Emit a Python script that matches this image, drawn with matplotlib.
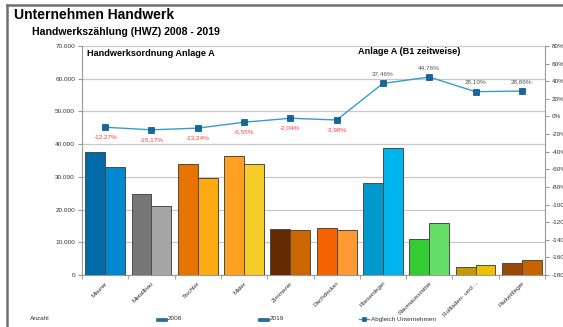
import matplotlib

matplotlib.use("Agg")

import matplotlib.pyplot as plt
from matplotlib.lines import Line2D
from matplotlib.patches import Rectangle
from matplotlib.ticker import FuncFormatter, MultipleLocator
import numpy as np

plt.rcParams["font.family"] = ["Liberation Sans", "DejaVu Sans"]

# Betriebe je Gewerk, HWZ 2008 und 2019
gewerke = ["Maurer", "Metallbau", "Tischler", "Maler", "Zimmerer", "Dachdecker",
           "Fliesenleger", "Raumausstatter", "Rollladen- und ...", "Parkettleger"]
anzahl_2008 = [37500, 24700, 34000, 36400, 14200, 14300, 28200, 10970, 2450, 3600]
anzahl_2019 = [32900, 20950, 29500, 34000, 13900, 13750, 38760, 15880, 3140, 4640]
abgleich = [-12.27, -15.17, -13.24, -6.55, -2.04, -3.98, 37.46, 44.76, 28.10, 28.86]

farben_2008 = ["#006BA8", "#777777", "#E87400", "#FFA020", "#642B00",
               "#F56400", "#0099CC", "#33CC33", "#C49A00", "#9A4A00"]
farben_2019 = ["#0088D1", "#A6A6A6", "#FFAA10", "#F5CC28", "#CC6600",
               "#FF9933", "#00B5EE", "#66DD66", "#EEC000", "#C86400"]

LINE_COLOR = "#3A9AD0"
MARKER_COLOR = "#10689E"
GRID = "#C8C8C8"
TICK_TXT = "#333333"


def de_zahl(v, pos=None):
    return f"{int(v):,}".replace(",", ".")


fig = plt.figure(figsize=(5.63, 3.27), dpi=100)
ax = fig.add_axes([82 / 563, 1 - 275 / 327, (545 - 82) / 563, (275 - 46) / 327])

x = np.arange(len(gewerke))
w = 0.43
ax.bar(x - w / 2, anzahl_2008, width=w, color=farben_2008,
       edgecolor="#4a4a4a", linewidth=0.7, zorder=3)
ax.bar(x + w / 2, anzahl_2019, width=w, color=farben_2019,
       edgecolor="#4a4a4a", linewidth=0.7, zorder=3)

ax.set_xlim(-0.5, len(gewerke) - 0.5)
ax.set_ylim(0, 70000)
ax.yaxis.set_major_locator(MultipleLocator(10000))
ax.yaxis.set_major_formatter(FuncFormatter(de_zahl))
ax.grid(axis="y", color=GRID, linewidth=0.9, zorder=0)
ax.set_axisbelow(True)

ax.set_xticks(x)
ax.set_xticklabels(gewerke, rotation=45, ha="right", rotation_mode="anchor",
                   fontsize=4.6, color=TICK_TXT)
ax.set_xticks(np.arange(-0.5, len(gewerke)), minor=True)
ax.tick_params(axis="x", which="major", length=0, pad=4)
ax.tick_params(axis="x", which="minor", length=3, color="#999999")
ax.tick_params(axis="y", labelsize=4.6, labelcolor=TICK_TXT, length=3,
               color="#999999", pad=2)

for side in ["top", "right"]:
    ax.spines[side].set_visible(False)
for side in ["left", "bottom"]:
    ax.spines[side].set_color("#999999")
    ax.spines[side].set_linewidth(0.8)

# Entwicklung der Unternehmenszahl in Prozent
ax2 = ax.twinx()
ax2.plot(x, abgleich, color=LINE_COLOR, linewidth=1.0, marker="s",
         markersize=4, markerfacecolor=MARKER_COLOR,
         markeredgecolor="#0B4C75", markeredgewidth=0.5, zorder=5)
ax2.set_ylim(-180, 80)
ax2.yaxis.set_major_locator(MultipleLocator(20))
ax2.yaxis.set_major_formatter(FuncFormatter(lambda v, p: f"{int(round(v))}%"))
ax2.tick_params(axis="y", labelsize=4.6, labelcolor=TICK_TXT, length=3,
                color="#999999", pad=2)
for side in ["top", "left", "bottom"]:
    ax2.spines[side].set_visible(False)
ax2.spines["right"].set_color("#999999")
ax2.spines["right"].set_linewidth(0.8)

for xi, v in zip(x, abgleich):
    txt = f"{v:.2f}%".replace(".", ",")
    if v < 0:
        ax2.annotate(txt, (xi, v), xytext=(0, -7), textcoords="offset points",
                     ha="center", va="center", fontsize=4.6, color="#FF3B3B")
    else:
        ax2.annotate(txt, (xi, v), xytext=(0, 7), textcoords="offset points",
                     ha="center", va="center", fontsize=4.6, color="#555555")

ax.text(87 / 563, 1 - 53 / 327, "Handwerksordnung Anlage A", transform=fig.transFigure,
        fontsize=6.6, fontweight="bold", va="center", ha="left")
ax.text(358 / 563, 1 - 52 / 327, "Anlage A (B1 zeitweise)", transform=fig.transFigure,
        fontsize=6.6, fontweight="bold", va="center", ha="left")

# Überschriften
fig.text(14 / 563, 1 - 15 / 327, "Unternehmen Handwerk", fontsize=10,
         fontweight="bold", va="center", ha="left")
fig.text(32 / 563, 1 - 32 / 327, "Handwerkszählung (HWZ) 2008 - 2019", fontsize=7.6,
         fontweight="bold", va="center", ha="left")

# Rahmen links und oben
fig.add_artist(Line2D([7 / 563, 7 / 563], [0, 1 - 5 / 327], transform=fig.transFigure,
                      color="#707070", linewidth=1.8))
fig.add_artist(Line2D([7 / 563, 1], [1 - 5 / 327, 1 - 5 / 327], transform=fig.transFigure,
                      color="#707070", linewidth=1.8))

# Legende
ly = 1 - 319 / 327
fig.text(30 / 563, ly, "Anzahl", fontsize=4.6, color=TICK_TXT, va="center")
for x0, lab in [(156, "2008"), (258, "2019")]:
    fig.add_artist(Rectangle((x0 / 563, ly - 1.5 / 327), 11 / 563, 3 / 327,
                             transform=fig.transFigure, facecolor="#1D6FA5",
                             edgecolor="#0B4C75", linewidth=0.4))
    fig.text((x0 + 12) / 563, ly, lab, fontsize=4.6, color=TICK_TXT, va="center")
fig.add_artist(Line2D([359 / 563, 369 / 563], [ly, ly], transform=fig.transFigure,
                      color=LINE_COLOR, linewidth=1.0))
fig.add_artist(Line2D([364 / 563], [ly], transform=fig.transFigure, marker="s",
                      markersize=3, markerfacecolor=MARKER_COLOR,
                      markeredgecolor="#0B4C75", markeredgewidth=0.4))
fig.text(371 / 563, ly, "Abgleich Unternehmen", fontsize=4.6, color=TICK_TXT,
         va="center")

fig.savefig("out.png", dpi=100)
